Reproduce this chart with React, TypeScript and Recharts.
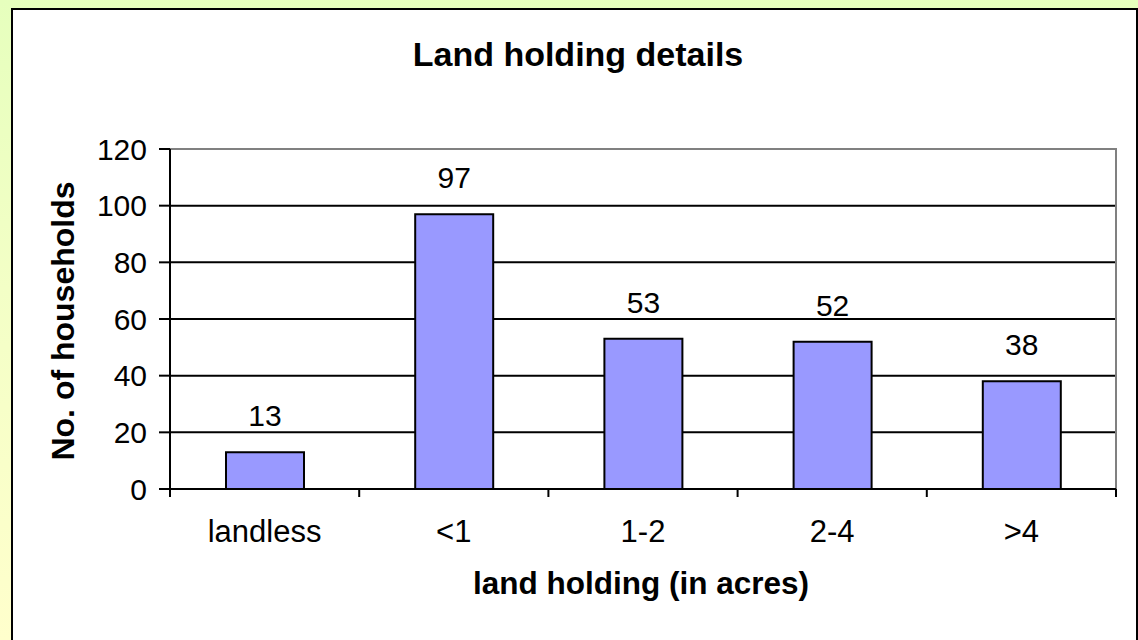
import React from 'react'
import { BarChart, Bar, XAxis, YAxis, CartesianGrid, LabelList, ReferenceArea } from 'recharts'

const categories = ['landless', '<1', '1-2', '2-4', '>4']
const households = [13, 97, 53, 52, 38]
const yTicks = [0, 20, 40, 60, 80, 100, 120]

const data = categories.map((c, i) => ({ name: c, value: households[i] }))

const FONT = '"Liberation Sans", Arial, sans-serif'

// category tick: label in the band centre, tick marks on the band edges
function CatTick(props: any) {
  const { x, y, payload, index, visibleTicksCount } = props
  const half = payload && payload.offset ? payload.offset : 94.6
  const last = index === visibleTicksCount - 1
  return (
    <g>
      <line x1={x - half} y1={y} x2={x - half} y2={y + 8} stroke="#000" strokeWidth={2} />
      {last && <line x1={x + half} y1={y} x2={x + half} y2={y + 8} stroke="#000" strokeWidth={2} />}
      <text x={x} y={y + 31} dy="0.71em" textAnchor="middle" fill="#000" fontSize={31} fontFamily={FONT}>
        {payload.value}
      </text>
    </g>
  )
}

export default function App() {
  return (
    <div style={{ position: 'absolute', left: 0, top: 0, width: 1138, height: 640, overflow: 'hidden',
      background: 'linear-gradient(180deg, #e6ffbd 0%, #f3ffc6 45%, #ffffcc 100%)' }}>
      <div style={{ position: 'absolute', left: 11, top: 8, width: 1127, height: 700, boxSizing: 'border-box',
        border: '2px solid #000', background: '#fff' }} />
      <div style={{ position: 'absolute', left: 0, top: 0 }}>
        <BarChart width={1138} height={640} data={data} barSize={78}
          margin={{ top: 149, right: 22, left: 70, bottom: 91 }}>
          <CartesianGrid vertical={false} stroke="#000" strokeWidth={2} />
          <ReferenceArea y1={0} y2={120} fill="none" stroke="#808080" strokeWidth={2} ifOverflow="visible" />
          <XAxis dataKey="name" height={60} tickSize={0} tickMargin={0}
            axisLine={{ stroke: '#000', strokeWidth: 2 }} tickLine={false} tick={<CatTick />} interval={0} />
          <YAxis width={100} domain={[0, 120]} ticks={yTicks} interval={0}
            axisLine={{ stroke: '#000', strokeWidth: 2 }} tickLine={{ stroke: '#000', strokeWidth: 2 }}
            tickSize={11} tickMargin={12}
            tick={{ fill: '#000', fontSize: 30, fontFamily: FONT }} />
          <Bar dataKey="value" fill="#9999ff" stroke="#000" strokeWidth={2} isAnimationActive={false}>
            <LabelList dataKey="value" position="top" offset={26} fill="#000" fontSize={30} fontFamily={FONT} />
          </Bar>
        </BarChart>
      </div>
      <svg width={1138} height={640} style={{ position: 'absolute', left: 0, top: 0, pointerEvents: 'none' }}>
        <text x={578} y={66} textAnchor="middle" fontSize={34} fontWeight="bold" fontFamily={FONT} fill="#000">
          Land holding details
        </text>
        <text x={641} y={594} textAnchor="middle" fontSize={31.5} fontWeight="bold" fontFamily={FONT} fill="#000">
          land holding (in acres)
        </text>
        <text transform="translate(74,321) rotate(-90)" textAnchor="middle" fontSize={32} fontWeight="bold"
          fontFamily={FONT} fill="#000">
          No. of households
        </text>
      </svg>
    </div>
  )
}
